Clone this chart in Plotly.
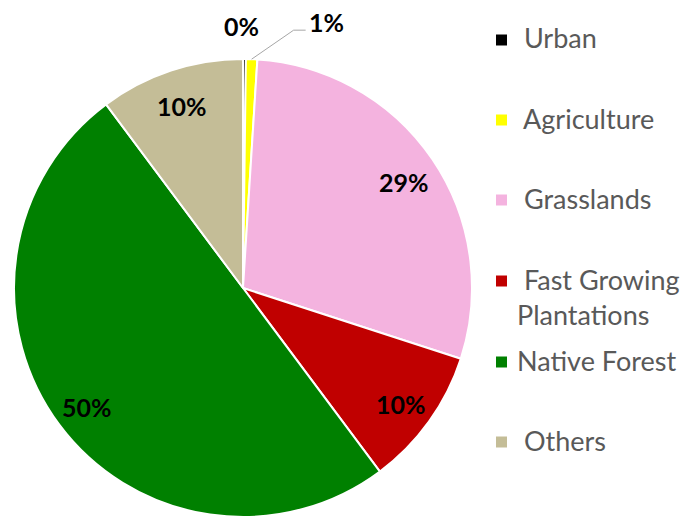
import math
import plotly.graph_objects as go

W, H = 684, 517

# Land-use shares (percent of area)
categories = ["Urban", "Agriculture", "Grasslands", "Fast Growing Plantations",
              "Native Forest", "Others"]
shares = [0.2, 0.8, 29.0, 9.8, 50.0, 10.2]
colors = ["#000000", "#FFFF00", "#F4B3DF", "#C00000", "#008000", "#C4BD97"]
legend_names = ["\u00a0Urban", "\u00a0Agriculture", "\u00a0Grasslands",
                "\u00a0Fast Growing<br>Plantations", "Native Forest", "\u00a0Others"]

# pie geometry in pixels
CX, CY, R = 243, 288, 229


def paper(x, y):
    return x / W, 1 - y / H


fig = go.Figure(go.Pie(
    labels=categories,
    values=shares,
    sort=False,
    direction="clockwise",
    rotation=0,
    marker=dict(colors=colors, line=dict(color="white", width=2)),
    textinfo="none",
    hoverinfo="label+percent",
    showlegend=False,
    domain=dict(x=[(CX - R) / W, (CX + R) / W], y=[0, 2 * R / H]),
))

total = sum(shares)
annotations = []
shapes = []
cum = 0.0
label_font = dict(family="Lato, Open Sans, sans-serif", size=25, color="black")
for i, v in enumerate(shares):
    frac = v / total
    mid = (cum + frac / 2) * 2 * math.pi
    cum += frac
    text = f"<b>{round(frac * 100)}%</b>"
    if frac < 0.005:
        # tiny slice: label straight out beyond the rim
        lx = CX + (R + 33) * math.sin(mid) - 3
        ly = CY - (R + 33) * math.cos(mid)
        x, y = paper(lx, ly)
        annotations.append(dict(x=x, y=y, xref="paper", yref="paper", text=text,
                                showarrow=False, xanchor="center", yanchor="middle",
                                font=label_font))
    elif frac < 0.02:
        # small slice: label with a leader line
        sx = CX + R * math.sin(mid)
        sy = CY - R * math.cos(mid)
        ex, ey = sx + 42, sy - 29
        tx, ty = ex + 12, ey
        x0, y0 = paper(sx, sy)
        x1, y1 = paper(ex, ey)
        x2, y2 = paper(tx, ty)
        shapes.append(dict(type="path", xref="paper", yref="paper",
                           path=f"M {x0} {y0} L {x1} {y1} L {x2} {y2}",
                           line=dict(color="#A6A6A6", width=1)))
        x, y = paper(tx + 1, ty - 8)
        annotations.append(dict(x=x, y=y, xref="paper", yref="paper", text=text,
                                showarrow=False, xanchor="left", yanchor="middle",
                                font=label_font))
    else:
        rr = 0.85 * R
        x, y = paper(CX + rr * math.sin(mid), CY - rr * math.cos(mid) + 3)
        annotations.append(dict(x=x, y=y, xref="paper", yref="paper", text=text,
                                showarrow=False, xanchor="center", yanchor="middle",
                                font=label_font))

# legend: coloured squares with names
legend_font = dict(family="Lato, Open Sans, sans-serif", size=27, color="#595959")
rows_y = [38, 118, 198, 297, 360, 440]
for name, col, yc in zip(legend_names, colors, rows_y):
    multi = "<br>" in name
    my = yc - 16 if multi else yc + 2
    x0, y0 = paper(496, my - 5.5)
    x1, y1 = paper(507, my + 5.5)
    shapes.append(dict(type="rect", xref="paper", yref="paper", x0=x0, y0=y1,
                       x1=x1, y1=y0, fillcolor=col, line=dict(width=0)))
    x, y = paper(515, yc)
    annotations.append(dict(x=x, y=y, xref="paper", yref="paper", text=name,
                            showarrow=False, xanchor="left", yanchor="middle",
                            align="left", font=legend_font))

fig.update_layout(
    width=W, height=H,
    margin=dict(l=0, r=0, t=0, b=0),
    paper_bgcolor="white",
    plot_bgcolor="white",
    annotations=annotations,
    shapes=shapes,
)

fig.write_html("out.html")
